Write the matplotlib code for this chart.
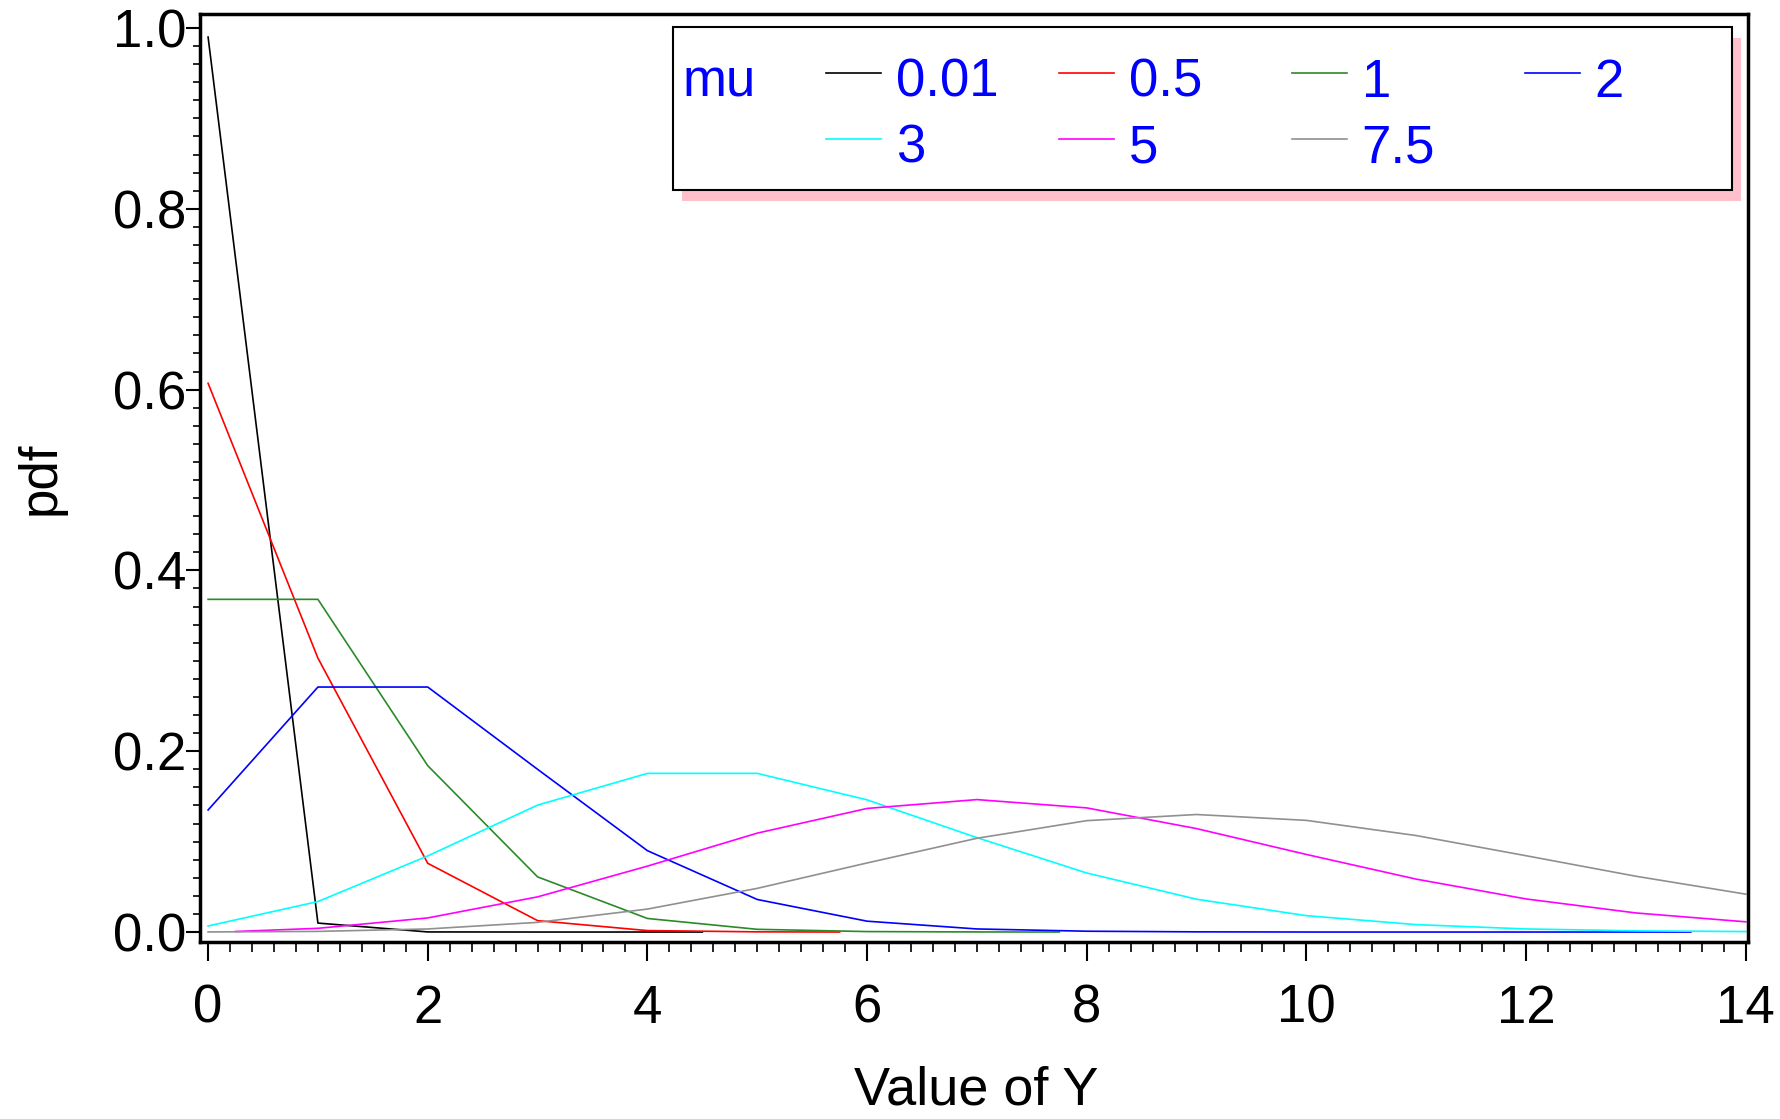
import matplotlib
matplotlib.use("Agg")
import matplotlib.pyplot as plt
from matplotlib.lines import Line2D
from matplotlib.patches import Rectangle
from matplotlib.ticker import MultipleLocator, FormatStrFormatter

plt.rcParams['font.family'] = ['Liberation Sans', 'DejaVu Sans']

# values, one list per curve
mu_labels = ['0.01', '0.5', '1', '2', '3', '5', '7.5']
colors = ['black', '#ff0000', '#2a8a2a', '#0000ff', '#00ffff', '#ff00ff', '#909090']

x_001 = [0, 1, 2, 3, 4, 4.5]
y_001 = [0.990, 0.0099, 0.0001, 0.0, 0.0, 0.0]

x_05 = [0, 1, 2, 3, 4, 5, 5.75]
y_05 = [0.607, 0.303, 0.076, 0.0126, 0.0016, 0.0002, 0.0]

x_1 = [0, 1, 2, 3, 4, 5, 6, 7, 7.75]
y_1 = [0.368, 0.368, 0.184, 0.061, 0.015, 0.003, 0.0005, 0.0001, 0.0]

x_2 = [0, 1, 2, 3, 4, 5, 6, 7, 8, 9, 10, 11, 12, 13, 13.5]
y_2 = [0.135, 0.271, 0.271, 0.180, 0.090, 0.036, 0.012, 0.0034, 0.0009,
       0.0002, 0.0, 0.0, 0.0, 0.0, 0.0]

x_3 = list(range(15))
y_3 = [0.0067, 0.0337, 0.0842, 0.1404, 0.1755, 0.1755, 0.1462, 0.1044,
       0.0653, 0.0363, 0.0181, 0.0082, 0.0034, 0.0013, 0.0005]

x_5 = [0.25, 1, 2, 3, 4, 5, 6, 7, 8, 9, 10, 11, 12, 13, 14]
y_5 = [0.0006, 0.0041, 0.0156, 0.0389, 0.0729, 0.1094, 0.1367, 0.1465,
       0.1373, 0.1144, 0.0858, 0.0585, 0.0366, 0.0211, 0.0113]

x_75 = list(range(15))
y_75 = [0.0001, 0.0007, 0.0034, 0.0107, 0.0254, 0.0483, 0.0764, 0.1037,
        0.1232, 0.1300, 0.1235, 0.1067, 0.0844, 0.0617, 0.0419]

xs = [x_001, x_05, x_1, x_2, x_3, x_5, x_75]
ys = [y_001, y_05, y_1, y_2, y_3, y_5, y_75]

fig = plt.figure(figsize=(17.8, 11.19), dpi=100)
ax = fig.add_axes([0.1124, 0.1582, 0.8696, 0.8293])

for x, y, c in zip(xs, ys, colors):
    ax.plot(x, y, color=c, lw=1.2)

ax.set_xlim(-0.073, 14.02)
ax.set_ylim(-0.011, 1.0155)

ax.xaxis.set_major_locator(MultipleLocator(2))
ax.xaxis.set_minor_locator(MultipleLocator(0.2))
ax.yaxis.set_major_locator(MultipleLocator(0.2))
ax.yaxis.set_minor_locator(MultipleLocator(0.02))
ax.yaxis.set_major_formatter(FormatStrFormatter('%.1f'))

ax.tick_params(which='major', direction='out', length=14, width=1.5,
               labelsize=38, pad=16)
ax.tick_params(which='minor', direction='out', length=7, width=1.2)
ax.tick_params(axis='y', which='major', length=10, pad=0)
ax.tick_params(axis='y', which='minor', length=5)
for s in ax.spines.values():
    s.set_linewidth(2.5)

fig.text(0.5485, 0.013, 'Value of Y', fontsize=39, ha='center', va='baseline')
ax.set_ylabel('pdf', fontsize=38, labelpad=34)

# legend box with pink shadow, drawn by hand to match the layout
box_x0, box_x1, box_y0, box_y1 = 0.3056, 0.990, 0.810, 0.986
ax.add_patch(Rectangle((box_x0 + 0.0058, box_y0 - 0.0119), box_x1 - box_x0, box_y1 - box_y0,
                       transform=ax.transAxes, facecolor='#ffc0cb', edgecolor='none', zorder=5))
ax.add_patch(Rectangle((box_x0, box_y0), box_x1 - box_x0, box_y1 - box_y0,
                       transform=ax.transAxes, facecolor='white', edgecolor='black',
                       lw=1.5, zorder=6))
ax.text(0.312, 0.926, 'mu', transform=ax.transAxes, color='#0000ff', fontsize=38,
        va='center', ha='left', zorder=7)

col_x = [0.4044, 0.5549, 0.7054, 0.8559]
row_y = [0.926, 0.855]
for i, (lab, c) in enumerate(zip(mu_labels, colors)):
    cx = col_x[i % 4]
    ry = row_y[i // 4]
    ax.add_line(Line2D([cx, cx + 0.0355], [ry + 0.01, ry + 0.01], transform=ax.transAxes,
                       color=c, lw=1.2, zorder=7))
    ax.text(cx + 0.045, ry, lab, transform=ax.transAxes, color='#0000ff', fontsize=38,
            va='center', ha='left', zorder=7)

fig.savefig('out.png', dpi=100)
